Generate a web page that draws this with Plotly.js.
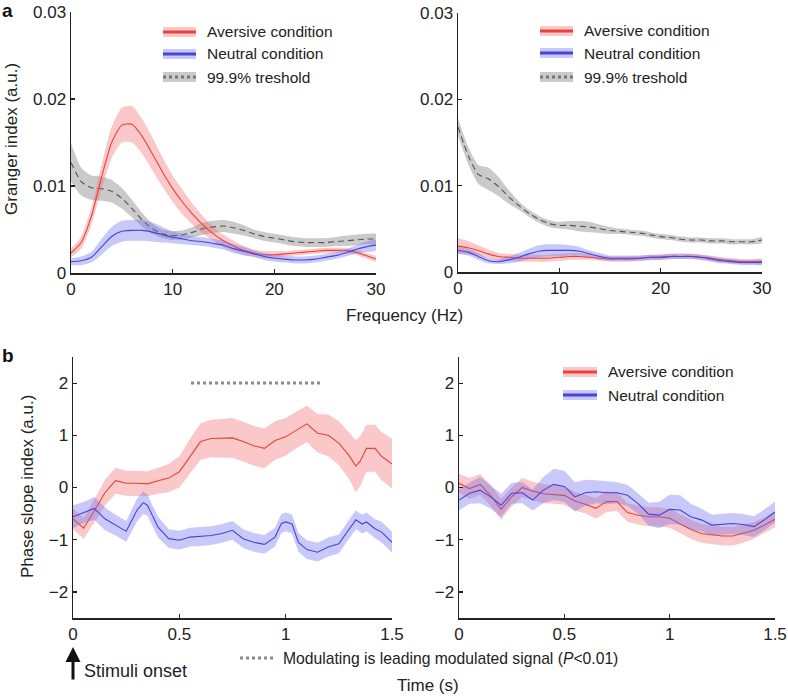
<!DOCTYPE html>
<html>
<head>
<meta charset="utf-8">
<script src="https://cdn.plot.ly/plotly-3.0.1.min.js"></script>
<style>
  body { margin: 0; background: #fff; }
  #chart { width: 788px; height: 696px; }
</style>
</head>
<body>
<div id="chart"></div>
<script>
// panel a: granger spectra (Hz)
const freq = [0,1,2,3,4,5,6,7,8,9,10,11,12,13,14,15,16,17,18,19,20,21,22,23,24,25,26,27,28,29,30];

const aversiveA = [0.0023,0.0035,0.0065,0.0110,0.0150,0.0170,0.0171,0.0157,0.0137,0.0116,0.0097,0.0081,0.0067,0.0055,0.0045,0.0037,0.0031,0.0026,0.0023,0.0021,0.0021,0.0022,0.0023,0.0024,0.0025,0.0026,0.0026,0.0026,0.0024,0.0020,0.0016];
const aversiveAErr = [0.0005,0.0007,0.0010,0.0014,0.0018,0.0020,0.0021,0.0020,0.0019,0.0017,0.0015,0.0014,0.0012,0.0010,0.0008,0.0007,0.0006,0.0005,0.0004,0.0004,0.0004,0.0003,0.0003,0.0003,0.0003,0.0003,0.0003,0.0003,0.0003,0.0003,0.0003];
const neutralA = [0.0013,0.0014,0.0018,0.0030,0.0042,0.0048,0.0049,0.0049,0.0047,0.0044,0.0041,0.0039,0.0037,0.0036,0.0034,0.0032,0.0028,0.0025,0.0022,0.0019,0.0017,0.0016,0.0015,0.0015,0.0016,0.0018,0.0020,0.0023,0.0027,0.0030,0.0032];
const neutralAErr = [0.0004,0.0005,0.0006,0.0009,0.0011,0.0012,0.0012,0.0012,0.0011,0.0009,0.0007,0.0006,0.0005,0.0005,0.0005,0.0005,0.0005,0.0005,0.0004,0.0004,0.0004,0.0004,0.0004,0.0004,0.0004,0.0004,0.0004,0.0004,0.0005,0.0006,0.0006];
const thresholdA = [0.0127,0.0105,0.0098,0.0097,0.0094,0.0086,0.0074,0.0061,0.0051,0.0045,0.0043,0.0044,0.0047,0.0051,0.0053,0.0054,0.0052,0.0049,0.0045,0.0042,0.0040,0.0038,0.0036,0.0035,0.0035,0.0035,0.0036,0.0037,0.0038,0.0039,0.0039];
const thresholdAErr = [0.0022,0.0016,0.0014,0.0014,0.0013,0.0012,0.0010,0.0008,0.0006,0.0005,0.0005,0.0005,0.0006,0.0007,0.0007,0.0007,0.0007,0.0006,0.0005,0.0005,0.0005,0.0005,0.0005,0.0005,0.0005,0.0005,0.0005,0.0006,0.0006,0.0006,0.0006];

const aversiveB = [0.0030,0.0028,0.0025,0.0021,0.0018,0.0017,0.0016,0.0016,0.0016,0.0016,0.0017,0.0018,0.0018,0.0017,0.0016,0.0015,0.0015,0.0015,0.0016,0.0017,0.0017,0.0018,0.0018,0.0018,0.0017,0.0016,0.0014,0.0013,0.0012,0.0012,0.0012];
const aversiveBErr = [0.0009,0.0008,0.0006,0.0005,0.0004,0.0004,0.0004,0.0004,0.0004,0.0004,0.0004,0.0004,0.0004,0.0003,0.0003,0.0003,0.0003,0.0003,0.0003,0.0003,0.0003,0.0003,0.0003,0.0003,0.0003,0.0003,0.0003,0.0003,0.0003,0.0003,0.0003];
const neutralB = [0.0025,0.0023,0.0018,0.0013,0.0012,0.0014,0.0017,0.0021,0.0024,0.0025,0.0025,0.0025,0.0024,0.0021,0.0018,0.0016,0.0016,0.0016,0.0016,0.0017,0.0017,0.0018,0.0018,0.0018,0.0017,0.0015,0.0013,0.0012,0.0011,0.0011,0.0011];
const neutralBErr = [0.0004,0.0004,0.0004,0.0003,0.0003,0.0004,0.0005,0.0006,0.0007,0.0007,0.0007,0.0006,0.0005,0.0004,0.0004,0.0003,0.0003,0.0003,0.0003,0.0003,0.0003,0.0003,0.0003,0.0003,0.0003,0.0003,0.0003,0.0003,0.0003,0.0003,0.0003];
const thresholdB = [0.0168,0.0135,0.0113,0.0108,0.0099,0.0087,0.0077,0.0068,0.0061,0.0056,0.0054,0.0054,0.0053,0.0052,0.0050,0.0048,0.0047,0.0046,0.0045,0.0043,0.0041,0.0040,0.0038,0.0037,0.0037,0.0036,0.0036,0.0035,0.0035,0.0035,0.0037];
const thresholdBErr = [0.0010,0.0010,0.0011,0.0013,0.0011,0.0008,0.0005,0.0004,0.0004,0.0004,0.0004,0.0005,0.0006,0.0006,0.0005,0.0004,0.0003,0.0003,0.0003,0.0003,0.0003,0.0003,0.0003,0.0003,0.0003,0.0003,0.0003,0.0003,0.0003,0.0003,0.0003];

// panel b: phase slope index over time (s)
const timeAvC = [0,0.05,0.1,0.15,0.2,0.25,0.3,0.35,0.4,0.45,0.5,0.55,0.6,0.65,0.7,0.75,0.8,0.85,0.9,0.95,1.0,1.05,1.1,1.15,1.2,1.25,1.3,1.33,1.35,1.38,1.42,1.45,1.48,1.5];
const aversiveC = [-0.6,-0.78,-0.45,-0.1,0.13,0.08,0.08,0.07,0.13,0.18,0.3,0.6,0.88,0.94,0.94,0.95,0.88,0.8,0.75,0.9,0.97,1.1,1.22,1.04,1.0,0.85,0.6,0.41,0.5,0.75,0.75,0.6,0.52,0.45];
const aversiveCErr = [0.2,0.2,0.22,0.25,0.25,0.24,0.24,0.24,0.25,0.27,0.3,0.33,0.35,0.36,0.37,0.38,0.38,0.38,0.38,0.37,0.36,0.35,0.35,0.37,0.4,0.42,0.45,0.5,0.48,0.45,0.45,0.46,0.47,0.48];
const timeNeC = [0,0.05,0.1,0.15,0.2,0.25,0.3,0.33,0.35,0.4,0.45,0.5,0.55,0.6,0.65,0.7,0.75,0.8,0.85,0.9,0.95,0.98,1.0,1.03,1.06,1.1,1.15,1.2,1.25,1.3,1.33,1.36,1.38,1.42,1.45,1.5];
const neutralC = [-0.56,-0.48,-0.4,-0.6,-0.72,-0.84,-0.44,-0.29,-0.34,-0.76,-0.98,-1.01,-0.95,-0.94,-0.92,-0.88,-0.82,-0.98,-1.05,-1.09,-0.95,-0.69,-0.66,-0.7,-1.05,-1.19,-1.24,-1.14,-1.08,-0.79,-0.62,-0.7,-0.66,-0.79,-0.85,-1.05];
const neutralCErr = [0.22,0.2,0.22,0.22,0.2,0.2,0.22,0.22,0.2,0.2,0.18,0.18,0.18,0.18,0.18,0.18,0.18,0.18,0.18,0.18,0.18,0.18,0.18,0.18,0.18,0.18,0.18,0.18,0.18,0.18,0.18,0.18,0.18,0.18,0.2,0.2];
const sigTime = [0.555, 1.165];
const sigLevel = [2, 2];

const timeD = [0,0.05,0.1,0.15,0.2,0.25,0.3,0.35,0.4,0.45,0.5,0.55,0.6,0.65,0.7,0.75,0.8,0.85,0.9,0.95,1.0,1.05,1.1,1.15,1.2,1.25,1.3,1.35,1.4,1.45,1.5];
const aversiveD = [0.08,-0.02,0.06,-0.15,-0.42,-0.18,0,-0.07,-0.12,-0.13,-0.15,-0.26,-0.32,-0.4,-0.27,-0.27,-0.48,-0.53,-0.56,-0.56,-0.59,-0.7,-0.8,-0.88,-0.91,-0.93,-0.93,-0.88,-0.82,-0.72,-0.61];
const aversiveDErr = [0.18,0.2,0.2,0.2,0.2,0.18,0.18,0.18,0.18,0.18,0.18,0.18,0.18,0.2,0.2,0.18,0.18,0.18,0.18,0.18,0.18,0.18,0.18,0.18,0.18,0.18,0.18,0.18,0.16,0.15,0.15];
const neutralD = [-0.24,-0.11,-0.05,-0.18,-0.34,-0.11,-0.1,-0.24,-0.05,0.06,0.02,-0.18,-0.1,-0.08,-0.1,-0.1,-0.15,-0.31,-0.51,-0.53,-0.42,-0.43,-0.56,-0.62,-0.72,-0.7,-0.69,-0.71,-0.75,-0.62,-0.47];
const neutralDErr = [0.2,0.2,0.25,0.22,0.22,0.2,0.2,0.2,0.25,0.3,0.3,0.28,0.25,0.22,0.22,0.2,0.2,0.2,0.22,0.25,0.28,0.28,0.25,0.22,0.2,0.2,0.2,0.2,0.2,0.2,0.2];

const RED = '#e8423a', RED_BAND = 'rgba(242,110,110,0.38)';
const BLUE = '#4545d8', BLUE_BAND = 'rgba(110,110,238,0.38)';
const GREY = '#555555', GREY_BAND = 'rgba(150,150,150,0.5)';
const FONT = 'Liberation Sans, Arial, sans-serif';

const W = 788, H = 696;
const px = x => x / W;           // pixel -> paper x
const py = y => 1 - y / H;       // pixel -> paper y

// shaded band + mean line
function band(x, mean, err, lineColor, bandColor, ax, opts = {}) {
    const upper = mean.map((v, i) => v + err[i]);
    const lower = mean.map((v, i) => v - err[i]);
    const shape = opts.shape || 'linear';
    return [{
        x: x.concat(x.slice().reverse()),
        y: upper.concat(lower.slice().reverse()),
        xaxis: 'x' + ax, yaxis: 'y' + ax,
        fill: 'toself', fillcolor: bandColor,
        line: { width: 0, shape: shape, smoothing: 0.6 },
        mode: 'lines', hoverinfo: 'skip'
    }, {
        x: x, y: mean,
        xaxis: 'x' + ax, yaxis: 'y' + ax,
        mode: 'lines',
        line: { color: lineColor, width: opts.width || 1.1, dash: opts.dash || 'solid', shape: shape, smoothing: 0.6 }
    }];
}

let traces = [];
traces = traces.concat(band(freq, thresholdA, thresholdAErr, GREY, GREY_BAND, '', { shape: 'spline', dash: '6px,4px' }));
traces = traces.concat(band(freq, aversiveA, aversiveAErr, RED, RED_BAND, '', { shape: 'spline' }));
traces = traces.concat(band(freq, neutralA, neutralAErr, BLUE, BLUE_BAND, '', { shape: 'spline' }));
traces = traces.concat(band(freq, thresholdB, thresholdBErr, GREY, GREY_BAND, '2', { shape: 'spline', dash: '6px,4px' }));
traces = traces.concat(band(freq, aversiveB, aversiveBErr, RED, RED_BAND, '2', { shape: 'spline' }));
traces = traces.concat(band(freq, neutralB, neutralBErr, BLUE, BLUE_BAND, '2', { shape: 'spline' }));
traces = traces.concat(band(timeAvC, aversiveC, aversiveCErr, RED, RED_BAND, '3'));
traces = traces.concat(band(timeNeC, neutralC, neutralCErr, BLUE, BLUE_BAND, '3'));
traces.push({
    x: sigTime, y: sigLevel, xaxis: 'x3', yaxis: 'y3', mode: 'lines',
    line: { color: '#8a8a8a', width: 3, dash: 'dot' }
});
traces = traces.concat(band(timeD, aversiveD, aversiveDErr, RED, RED_BAND, '4'));
traces = traces.concat(band(timeD, neutralD, neutralDErr, BLUE, BLUE_BAND, '4'));

const axisBase = {
    showline: true, linecolor: '#222', linewidth: 1.5,
    ticks: 'inside', ticklen: 4, tickcolor: '#222', tickwidth: 1.2,
    showgrid: false, zeroline: false,
    ticklabeloverflow: 'allow',
    tickfont: { family: FONT, size: 17, color: '#222' }
};
const xA = { tickvals: [0, 10, 20, 30], range: [0, 30] };
const yA = { tickvals: [0, 0.01, 0.02, 0.03], ticktext: ['0', '0.01', '0.02', '0.03'], range: [0, 0.03] };
const xB = { tickvals: [0, 0.5, 1, 1.5], ticktext: ['0', '0.5', '1', '1.5'], range: [0, 1.5] };
const yB = { tickvals: [-2, -1, 0, 1, 2], ticktext: ['\u22122', '\u22121', '0', '1', '2'], range: [-2.5, 2.5] };

const layout = {
    width: W, height: H,
    margin: { l: 0, r: 0, t: 0, b: 0 },
    paper_bgcolor: '#fff', plot_bgcolor: 'rgba(0,0,0,0)',
    showlegend: false,
    font: { family: FONT, color: '#222' },
    xaxis:  Object.assign({}, axisBase, xA, { domain: [px(71), px(376)], anchor: 'y' }),
    yaxis:  Object.assign({}, axisBase, yA, { domain: [py(273), py(12)], anchor: 'x' }),
    xaxis2: Object.assign({}, axisBase, xA, { domain: [px(458), px(762)], anchor: 'y2' }),
    yaxis2: Object.assign({}, axisBase, yA, { domain: [py(272), py(13)], anchor: 'x2' }),
    xaxis3: Object.assign({}, axisBase, xB, { domain: [px(73), px(392)], anchor: 'y3' }),
    yaxis3: Object.assign({}, axisBase, yB, { domain: [py(618), py(357)], anchor: 'x3' }),
    xaxis4: Object.assign({}, axisBase, xB, { domain: [px(459), px(775)], anchor: 'y4' }),
    yaxis4: Object.assign({}, axisBase, yB, { domain: [py(618), py(357)], anchor: 'x4' }),
    shapes: [],
    annotations: []
};

function addText(text, x, y, opts = {}) {
    layout.annotations.push(Object.assign({
        text: text, x: px(x), y: py(y), xref: 'paper', yref: 'paper',
        showarrow: false, xanchor: 'center', yanchor: 'middle',
        font: { family: FONT, size: 17, color: '#222' }
    }, opts));
}

// hand-made legends: pale band with the line through it
function legendRow(x0, x1, y, label, lineColor, bandColor, dash) {
    layout.shapes.push({
        type: 'rect', xref: 'paper', yref: 'paper',
        x0: px(x0), x1: px(x1), y0: py(y + 5), y1: py(y - 5),
        fillcolor: bandColor, line: { width: 0 }
    });
    layout.shapes.push({
        type: 'line', xref: 'paper', yref: 'paper',
        x0: px(x0), x1: px(x1), y0: py(y), y1: py(y),
        line: { color: lineColor, width: 3, dash: dash || 'solid' }
    });
    addText(label, x1 + 9, y, { xanchor: 'left', font: { family: FONT, size: 15.5, color: '#222' } });
}
const legendSets = [[163, 196, [32, 54, 77]], [540, 573, [31, 53, 77]]];
legendSets.forEach(([a, b, rows]) => {
    legendRow(a, b, rows[0], 'Aversive condition', RED, RED_BAND);
    legendRow(a, b, rows[1], 'Neutral condition', BLUE, BLUE_BAND);
    legendRow(a, b, rows[2], '99.9% treshold', '#777', GREY_BAND, 'dot');
});
legendRow(563, 597, 372, 'Aversive condition', RED, RED_BAND);
legendRow(563, 597, 395, 'Neutral condition', BLUE, BLUE_BAND);

// panel letters and axis titles
addText('<b>a</b>', 8, 11, { font: { family: FONT, size: 19, color: '#111' } });
addText('<b>b</b>', 8, 355, { font: { family: FONT, size: 19, color: '#111' } });
addText('Granger index (a.u.)', 12, 139, { textangle: -90 });
addText('Phase slope index (a.u.)', 27, 487, { textangle: -90 });
addText('Frequency (Hz)', 404, 315);
addText('Time (s)', 428, 685);

// stimulus onset arrow and significance key
layout.annotations.push({
    x: px(73), y: py(647), xref: 'paper', yref: 'paper', text: '',
    showarrow: true, ax: 0, ay: 34, arrowhead: 2, arrowsize: 1, arrowwidth: 3, arrowcolor: '#111'
});
addText('Stimuli onset', 82, 671, { xanchor: 'left', font: { family: FONT, size: 18, color: '#222' } });
layout.shapes.push({
    type: 'line', xref: 'paper', yref: 'paper',
    x0: px(240), x1: px(273), y0: py(658), y1: py(658),
    line: { color: '#8a8a8a', width: 3, dash: 'dot' }
});
addText('Modulating is leading modulated signal (<i>P</i>&lt;0.01)', 281, 658,
    { xanchor: 'left', font: { family: FONT, size: 15.7, color: '#222' } });

Plotly.newPlot('chart', traces, layout, { displayModeBar: false, staticPlot: true });
</script>
</body>
</html>
